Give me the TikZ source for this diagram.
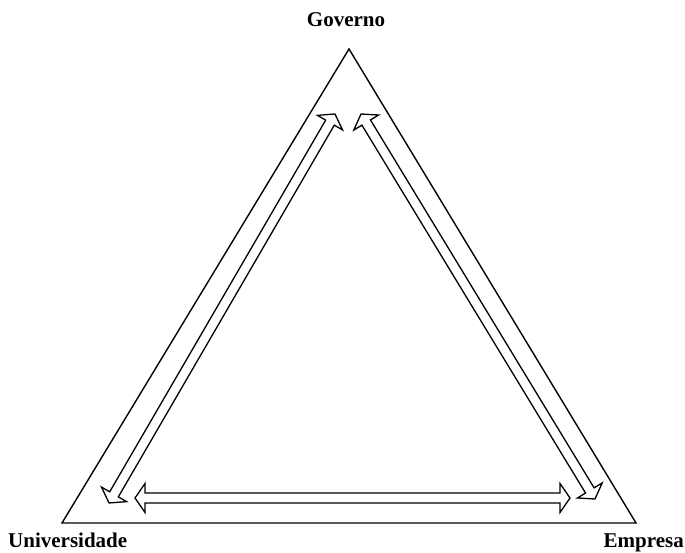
\documentclass[tikz,border=0pt]{standalone}
\usepackage{fontspec}
\setmainfont{Liberation Serif}
\usetikzlibrary{calc}

% hollow double-headed block arrow between two named points
\newcommand{\twinarrow}[2]{%
  \draw[hollow] (#1)
    -- ($(#1)!10pt!(#2)!14.5pt!90:(#2)$)
    -- ($(#1)!10pt!(#2)!5pt!90:(#2)$)
    -- ($(#2)!10pt!(#1)!5pt!-90:(#1)$)
    -- ($(#2)!10pt!(#1)!14.5pt!-90:(#1)$)
    -- (#2)
    -- ($(#2)!10pt!(#1)!14.5pt!90:(#1)$)
    -- ($(#2)!10pt!(#1)!5pt!90:(#1)$)
    -- ($(#1)!10pt!(#2)!5pt!-90:(#2)$)
    -- ($(#1)!10pt!(#2)!14.5pt!-90:(#2)$)
    -- cycle;}

\begin{document}
\begin{tikzpicture}[
  x=1pt,y=1pt,
  corner/.style={inner sep=0pt,font=\fontsize{21}{24}\selectfont\bfseries},
  side/.style={line width=1.4pt,line join=miter},
  hollow/.style={line width=1.3pt,line join=miter,fill=white},
]
\useasboundingbox (0,0) rectangle (685,553);

% labels
\node[corner,anchor=base] (gov) at (346,526) {Governo};
\node[corner,anchor=base west] (uni) at (8,5) {Universidade};
\node[corner,anchor=base east] (emp) at (684,5) {Empresa};

% triangle corners
\coordinate (govtip) at (349,504);
\coordinate (unitip) at (62,30);
\coordinate (emptip) at (636,30);

% arrow ends
\coordinate (ua) at (109,50);
\coordinate (ub) at (335,439);
\coordinate (ea) at (361,439);
\coordinate (eb) at (595,54);
\coordinate (ba) at (135,55);
\coordinate (bb) at (570,55);

\draw[side] (govtip) -- (unitip) -- (emptip) -- cycle;

\twinarrow{ua}{ub}
\twinarrow{ea}{eb}
\twinarrow{ba}{bb}

\end{tikzpicture}
\end{document}
